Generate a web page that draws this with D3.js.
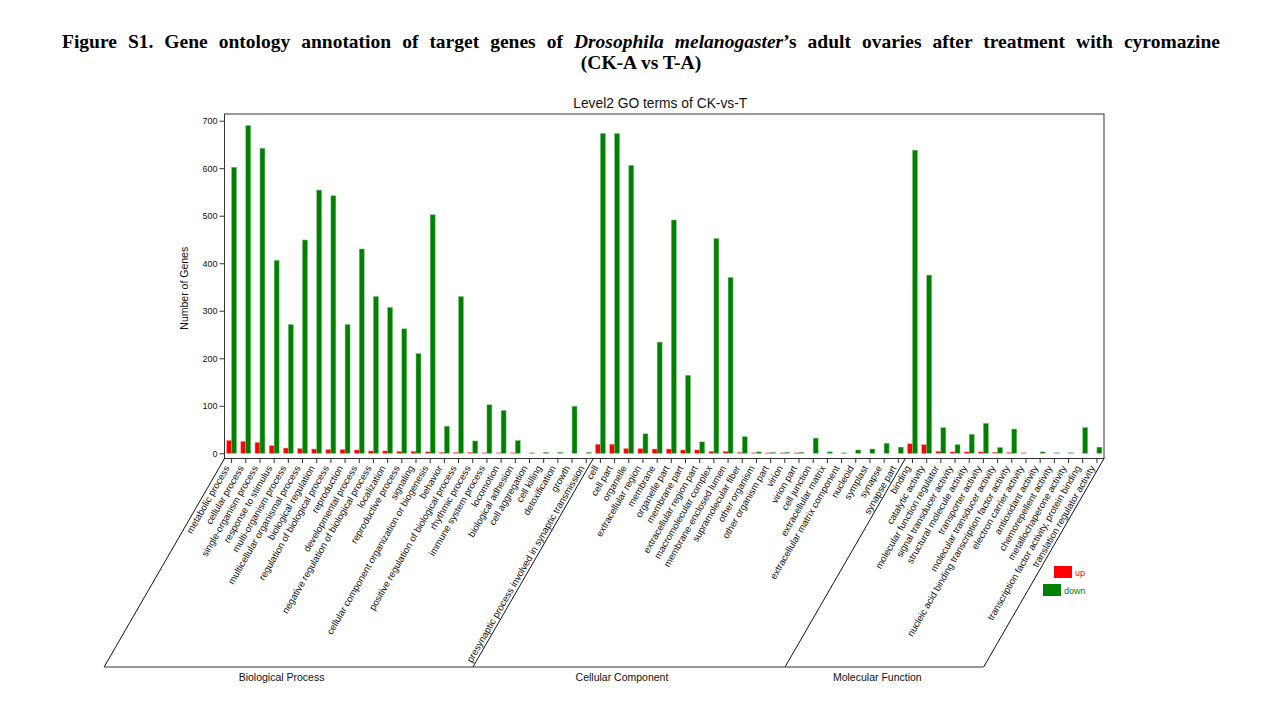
<!DOCTYPE html>
<html>
  <head>
    <meta charset="UTF-8">
    <title>Level2 GO terms of CK-vs-T</title>
    <script src="https://d3js.org/d3.v7.min.js"></script>
    <style>
      body { margin: 0; background: #fff; }
      svg text { font-family: "Liberation Sans", Arial, sans-serif; }
    </style>
  </head>
  <body>
    <div id="chart"></div>
  </body>

  <script>
// data
    var bpTerms = ["metabolic process", "cellular process", "single-organism process", "response to stimulus",
                   "multi-organism process", "multicellular organismal process", "biological regulation",
                   "regulation of biological process", "reproduction", "developmental process",
                   "negative regulation of biological process", "localization", "reproductive process", "signaling",
                   "cellular component organization or biogenesis", "behavior",
                   "positive regulation of biological process", "rhythmic process", "immune system process",
                   "locomotion", "biological adhesion", "cell aggregation", "cell killing", "detoxification",
                   "growth", "presynaptic process involved in synaptic transmission"];
    var bpUp   = [27, 25, 23, 16, 11, 10, 9, 8, 8, 7, 5, 5, 4, 4, 3, 2, 2, 2, 1, 1, 1, 0, 0, 0, 0, 0];
    var bpDown = [602, 690, 642, 406, 271, 449, 554, 542, 271, 430, 330, 307, 262, 210, 502, 57, 330, 26, 102,
                  90, 27, 1, 2, 2, 99, 2];

    var ccTerms = ["cell", "cell part", "organelle", "extracellular region", "membrane", "organelle part",
                   "membrane part", "extracellular region part", "macromolecular complex",
                   "membrane-enclosed lumen", "supramolecular fiber", "other organism", "other organism part",
                   "virion", "virion part", "cell junction", "extracellular matrix",
                   "extracellular matrix component", "nucleoid", "symplast", "synapse", "synapse part"];
    var ccUp   = [19, 19, 10, 10, 9, 9, 7, 7, 4, 4, 2, 1, 1, 1, 1, 0, 0, 0, 0, 0, 0, 0];
    var ccDown = [673, 673, 606, 41, 234, 491, 164, 24, 452, 370, 35, 3, 2, 2, 2, 32, 3, 1, 7, 9, 21, 13];

    var mfTerms = ["binding", "catalytic activity", "molecular function regulator", "signal transducer activity",
                   "structural molecule activity", "transporter activity", "molecular transducer activity",
                   "nucleic acid binding transcription factor activity", "electron carrier activity",
                   "antioxidant activity", "chemorepellent activity", "metallochaperone activity",
                   "transcription factor activity, protein binding", "translation regulator activity"];
    var mfUp   = [20, 18, 4, 3, 3, 3, 2, 2, 1, 0, 0, 0, 0, 0];
    var mfDown = [638, 375, 54, 18, 40, 63, 12, 51, 0, 3, 1, 1, 54, 13];

    var groupNames = ["Biological Process", "Cellular Component", "Molecular Function"];
    var seriesNames = ["up", "down"];
    var yTicks = [0, 100, 200, 300, 400, 500, 600, 700];

    var colors = {up: "#ff0000", down: "#008000"};
    var edges = {up: "#ff8c8c", down: "#7fc07f"};

// build rows
    var groups = [[bpTerms, bpUp, bpDown], [ccTerms, ccUp, ccDown], [mfTerms, mfUp, mfDown]];
    var rows = [];
    groups.forEach(function(g, gi) {
      g[0].forEach(function(t, i) {
        rows.push({term: t, group: gi, up: g[1][i], down: g[2][i]});
      });
    });

    var width = 1280,
        height = 720;
    var plot = {left: 224.5, right: 1104, top: 114, bottom: 458.5};
    var slantBottom = 667;
    var slant = (slantBottom - plot.bottom) / Math.tan(60 * Math.PI / 180);

    var svg = d3.select("#chart")
                .append("svg")
                .attr("width", width)
                .attr("height", height);

//caption (justified first line)
    var cap1 = svg.append("text")
                  .attr("x", 62)
                  .attr("y", 48)
                  .style("font-family", "'Liberation Serif', 'Times New Roman', serif")
                  .attr("font-weight", "bold")
                  .attr("font-size", 19.5);
    cap1.append("tspan").text("Figure S1. Gene ontology annotation of target genes of ");
    cap1.append("tspan").attr("font-style", "italic").text("Drosophila melanogaster");
    cap1.append("tspan").text("\u2019s adult ovaries after treatment with cyromazine");
    var natural = cap1.node().getComputedTextLength();
    var spaces = cap1.text().split(" ").length - 1;
    cap1.style("word-spacing", ((1220 - 62 - natural) / spaces) + "px");

    svg.append("text")
       .attr("x", 641)
       .attr("y", 69)
       .attr("text-anchor", "middle")
       .style("font-family", "'Liberation Serif', 'Times New Roman', serif")
       .attr("font-weight", "bold")
       .attr("font-size", 19.5)
       .text("(CK-A vs T-A)");

//title
    svg.append("text")
       .attr("x", (plot.left + plot.right) / 2 - 4)
       .attr("y", 108)
       .attr("text-anchor", "middle")
       .attr("font-size", 13.8)
       .attr("fill", "#111")
       .text("Level2 GO terms of CK-vs-T");

//scales
    var xScale = d3.scaleBand()
                   .domain(rows.map(function(d) { return d.term; }))
                   .range([plot.left, plot.right])
                   .paddingInner(0.3)
                   .paddingOuter(0.15);
    var xSub = d3.scaleBand()
                 .domain(seriesNames)
                 .range([0, xScale.bandwidth()]);
    var yScale = d3.scaleLinear()
                   .domain([0, 700])
                   .range([453.3, 120.7]);

//frame
    svg.append("rect")
       .attr("x", plot.left)
       .attr("y", plot.top)
       .attr("width", plot.right - plot.left)
       .attr("height", plot.bottom - plot.top)
       .attr("fill", "none")
       .attr("stroke", "#333")
       .attr("stroke-width", 1);

//bars
    var cols = svg.append("g")
                  .selectAll("g")
                  .data(rows)
                  .enter()
                  .append("g")
                  .attr("transform", function(d) { return "translate(" + xScale(d.term) + ",0)"; });

    cols.selectAll("rect")
        .data(function(d) { return seriesNames.map(function(k) { return {key: k, value: d[k]}; }); })
        .enter()
        .filter(function(d) { return d.value > 0; })
        .append("rect")
        .attr("x", function(d) { return xSub(d.key); })
        .attr("y", function(d) { return yScale(d.value); })
        .attr("width", xSub.bandwidth())
        .attr("height", function(d) { return yScale(0) - yScale(d.value); })
        .attr("fill", function(d) { return colors[d.key]; })
        .attr("stroke", function(d) { return edges[d.key]; })
        .attr("stroke-width", 0.5);

//y axis
    var YAxis = d3.axisLeft(yScale)
                  .tickValues(yTicks)
                  .tickSize(5)
                  .tickPadding(2);
    var gy = svg.append("g")
                .attr("transform", "translate(" + plot.left + ",0)")
                .call(YAxis);
    gy.select(".domain").remove();
    gy.selectAll("line").attr("stroke", "#333");
    gy.selectAll("text").attr("font-size", 9).attr("font-family", null).attr("fill", "#111");

    svg.append("text")
       .attr("transform", "translate(188," + ((plot.top + plot.bottom) / 2 + 2) + ") rotate(-90)")
       .attr("text-anchor", "middle")
       .attr("font-size", 10.5)
       .attr("fill", "#111")
       .text("Number of Genes");

//x axis
    var XAxis = d3.axisBottom(xScale)
                  .tickSize(4.5)
                  .tickSizeOuter(0);
    var gx = svg.append("g")
                .attr("transform", "translate(0," + plot.bottom + ")")
                .call(XAxis);
    gx.select(".domain").remove();
    gx.selectAll("line").attr("stroke", "#333");
    gx.selectAll("text")
      .attr("font-size", 9.5)
      .attr("font-family", null)
      .attr("fill", "#111")
      .attr("x", -9)
      .attr("y", 0)
      .attr("dy", "0.35em")
      .attr("transform", "rotate(-60)")
      .style("text-anchor", "end");

//group slants
    var half = xScale.step() * xScale.paddingOuter();
    var bounds = [xScale(bpTerms[0]) - half, xScale(ccTerms[0]) - half, xScale(mfTerms[0]) - half,
                  xScale(mfTerms[mfTerms.length - 1]) + xScale.bandwidth() + half];

    svg.append("g")
       .selectAll("line")
       .data(bounds)
       .enter()
       .append("line")
       .attr("x1", function(d) { return d; })
       .attr("y1", plot.bottom)
       .attr("x2", function(d) { return d - slant; })
       .attr("y2", slantBottom)
       .attr("stroke", "#111")
       .attr("stroke-width", 1);

    svg.append("line")
       .attr("x1", bounds[0] - slant)
       .attr("x2", bounds[3] - slant)
       .attr("y1", slantBottom)
       .attr("y2", slantBottom)
       .attr("stroke", "#333")
       .attr("stroke-width", 1);

    svg.append("g")
       .selectAll("text")
       .data(groupNames)
       .enter()
       .append("text")
       .attr("x", function(d, i) { return (bounds[i] + bounds[i + 1]) / 2 - slant - 7; })
       .attr("y", slantBottom + 14)
       .attr("text-anchor", "middle")
       .attr("font-size", 10.5)
       .attr("fill", "#111")
       .text(function(d) { return d; });

//legend
    var legend = svg.append("g")
                    .selectAll("g")
                    .data(seriesNames)
                    .enter()
                    .append("g")
                    .attr("transform", function(d, i) { return "translate(" + (1054 - i * 11) + "," + (566 + i * 18) + ")"; });
    legend.append("rect")
          .attr("width", 18)
          .attr("height", 12)
          .attr("fill", function(d) { return colors[d]; });
    legend.append("text")
          .attr("x", 21)
          .attr("y", 10)
          .attr("font-size", 9)
          .attr("fill", function(d) { return colors[d]; })
          .text(function(d) { return d; });
  </script>
</html>
